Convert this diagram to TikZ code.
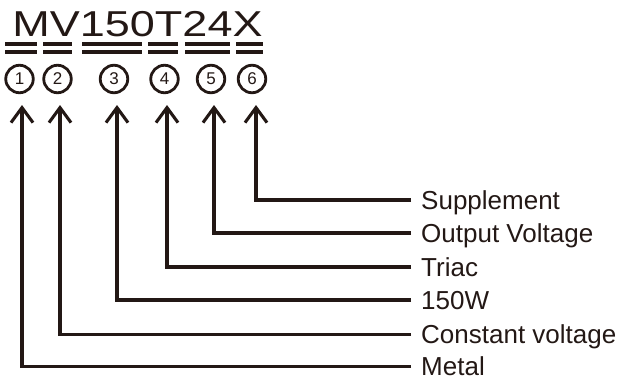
\documentclass[tikz,border=0pt]{standalone}
\usepackage{fontspec}
\setmainfont{Liberation Sans}
\usetikzlibrary{arrows.meta}
\definecolor{ink}{RGB}{35,24,21}
\begin{document}
\begin{tikzpicture}[x=1pt,y=-1pt,
  every node/.style={text=ink},
  circ/.style={circle,draw=ink,line width=2.8pt,minimum size=27.5pt,inner sep=0pt,font=\fontsize{17}{17}\selectfont},
  lab/.style={anchor=west,inner xsep=0pt,inner ysep=0pt,text height=18.6pt,text depth=0pt,font=\fontsize{26}{26}\selectfont},
  bar/.style={draw=ink,line width=3.6pt},
  conn/.style={draw=ink,line width=3.1pt,-{Straight Barb[length=15pt,width=22pt]}}
]
\useasboundingbox (0,0) rectangle (621,380);
% title
\node[anchor=base,inner sep=0pt] (title) at (137.5,36.5) {\scalebox{1.25}[1]{\fontsize{36}{36}\selectfont MV150T24X}};
% double bars
\foreach \a/\b in {5/37,43/72,82/142,148/178,185/230,236/263}{
  \draw[bar] (\a,43.7) -- (\b,43.7);
  \draw[bar] (\a,51.8) -- (\b,51.8);
}
% circles
\node[circ] (c1) at (19.5,79) {1};
\node[circ] (c2) at (57.5,79) {2};
\node[circ] (c3) at (114,79) {3};
\node[circ] (c4) at (164.5,79) {4};
\node[circ] (c5) at (211,79) {5};
\node[circ] (c6) at (252,79) {6};
% arrow tips
\coordinate (t1) at (22,105);
\coordinate (t2) at (60,105);
\coordinate (t3) at (117,105);
\coordinate (t4) at (167,105);
\coordinate (t5) at (214,105);
\coordinate (t6) at (256,105);
% labels
\node[lab] (l6) at (421,200) {Supplement};
\node[lab] (l5) at (421,233) {Output Voltage};
\node[lab] (l4) at (421,267) {Triac};
\node[lab] (l3) at (421,300) {150W};
\node[lab] (l2) at (421,334.5) {Constant voltage};
\node[lab] (l1) at (421,366.5) {Metal};
% connectors
\foreach \i in {1,...,6}{
  \draw[conn] ([xshift=-10pt]l\i.west) -| (t\i);
}
\end{tikzpicture}
\end{document}
